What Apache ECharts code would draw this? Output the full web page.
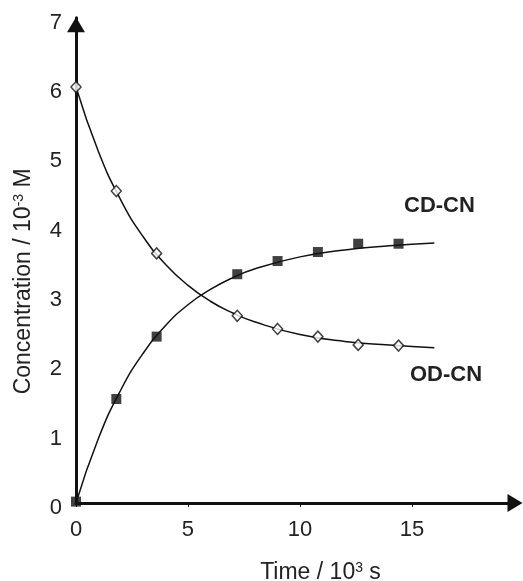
<!DOCTYPE html>
<html>
<head>
<meta charset="utf-8">
<script src="https://cdn.jsdelivr.net/npm/echarts@6/dist/echarts.min.js"></script>
<style>
html, body { margin: 0; padding: 0; background: #fff; }
#chart { width: 523px; height: 581px; }
</style>
</head>
<body>
<div id="chart"></div>
<script>
// measured points (time in 10^3 s, concentration in 10^-3 M)
var timePts = [0, 1.8, 3.6, 7.2, 9.0, 10.8, 12.6, 14.4];
var odPts = [6.0, 4.5, 3.6, 2.7, 2.51, 2.4, 2.28, 2.27];
var cdPts = [0.02, 1.5, 2.4, 3.3, 3.49, 3.62, 3.74, 3.74];

// fitted curves
var curveTime = [0, 1, 2, 3, 4, 5, 6, 7, 8, 10, 12, 14, 16];
var odCurve = [6.0, 5.07, 4.37, 3.84, 3.44, 3.14, 2.91, 2.74, 2.61, 2.43, 2.33, 2.28, 2.24];
var cdCurve = [0, 0.93, 1.63, 2.16, 2.56, 2.86, 3.08, 3.25, 3.38, 3.55, 3.65, 3.71, 3.75];

var xTicks = [0, 5, 10, 15];
var yTicks = [0, 1, 2, 3, 4, 5, 6, 7];

function pairs(xs, ys) {
    return xs.map(function (x, i) { return [x, ys[i]]; });
}

var font = 'Liberation Sans, Arial, sans-serif';
var supStyle = { fontSize: 14, verticalAlign: 'top', padding: [0, 0, 9, 0], fontFamily: font, color: '#222' };
var myChart = echarts.init(document.getElementById('chart'));

var option = {
    backgroundColor: '#fff',
    animation: false,
    grid: { left: 76, right: 8, top: 17.7, bottom: 78, containLabel: false, outerBoundsMode: 'none' },
    xAxis: {
        type: 'value',
        min: 0,
        max: 19.6,
        interval: 5,
        name: 'Time / 10{s|3} s',
        nameLocation: 'middle',
        nameGap: 58,
        nameTextStyle: {
            fontFamily: font, fontSize: 23, color: '#222',
            padding: [0, 0, 0, 50],
            rich: { s: supStyle }
        },
        axisLine: {
            lineStyle: { color: '#111', width: 3 },
            symbol: ['none', 'triangle'],
            symbolSize: [18, 15]
        },
        axisTick: { show: true, length: 4, lineStyle: { color: '#111', width: 1 } },
        axisLabel: {
            fontFamily: font, fontSize: 22, color: '#222', margin: 16,
            formatter: function (v) { return xTicks.indexOf(v) >= 0 ? String(v) : ''; }
        },
        splitLine: { show: false }
    },
    yAxis: {
        type: 'value',
        min: 0,
        max: 7,
        interval: 1,
        name: 'Concentration / 10{s|-3} M',
        nameLocation: 'middle',
        nameGap: 41,
        nameTextStyle: {
            fontFamily: font, fontSize: 23, color: '#222',
            padding: [0, 42, 0, 0],
            rich: { s: supStyle }
        },
        axisLine: {
            show: true,
            lineStyle: { color: '#111', width: 3 },
            symbol: ['none', 'triangle'],
            symbolSize: [18, 15],
            symbolOffset: [0, -7]
        },
        axisTick: { show: false },
        axisLabel: {
            fontFamily: font, fontSize: 22, color: '#222', margin: 14,
            verticalAlign: 'top', lineHeight: 10,
            formatter: function (v) { return yTicks.indexOf(v) >= 0 ? String(v) : ''; }
        },
        splitLine: { show: false }
    },
    series: [
        {
            name: 'OD-CN fit',
            type: 'line',
            smooth: true,
            showSymbol: false,
            lineStyle: { color: '#111', width: 1.5 },
            data: pairs(curveTime, odCurve),
            z: 2
        },
        {
            name: 'CD-CN fit',
            type: 'line',
            smooth: true,
            showSymbol: false,
            lineStyle: { color: '#111', width: 1.5 },
            data: pairs(curveTime, cdCurve),
            z: 2
        },
        {
            name: 'OD-CN',
            type: 'scatter',
            symbol: 'diamond',
            symbolSize: [10, 11],
            itemStyle: { color: '#fff', borderColor: '#111', borderWidth: 1.5 },
            data: pairs(timePts, odPts),
            z: 3
        },
        {
            name: 'CD-CN',
            type: 'scatter',
            symbol: 'rect',
            symbolSize: 10,
            itemStyle: { color: '#111' },
            data: pairs(timePts, cdPts),
            z: 3
        }
    ],
    graphic: [
        {
            type: 'text', left: 404, top: 195,
            style: { text: 'CD-CN', fontFamily: font, fontSize: 22, fontWeight: 'bold', fill: '#222' }
        },
        {
            type: 'text', left: 410, top: 364,
            style: { text: 'OD-CN', fontFamily: font, fontSize: 22, fontWeight: 'bold', fill: '#222' }
        }
    ]
};
myChart.setOption(option);
</script>
</body>
</html>
